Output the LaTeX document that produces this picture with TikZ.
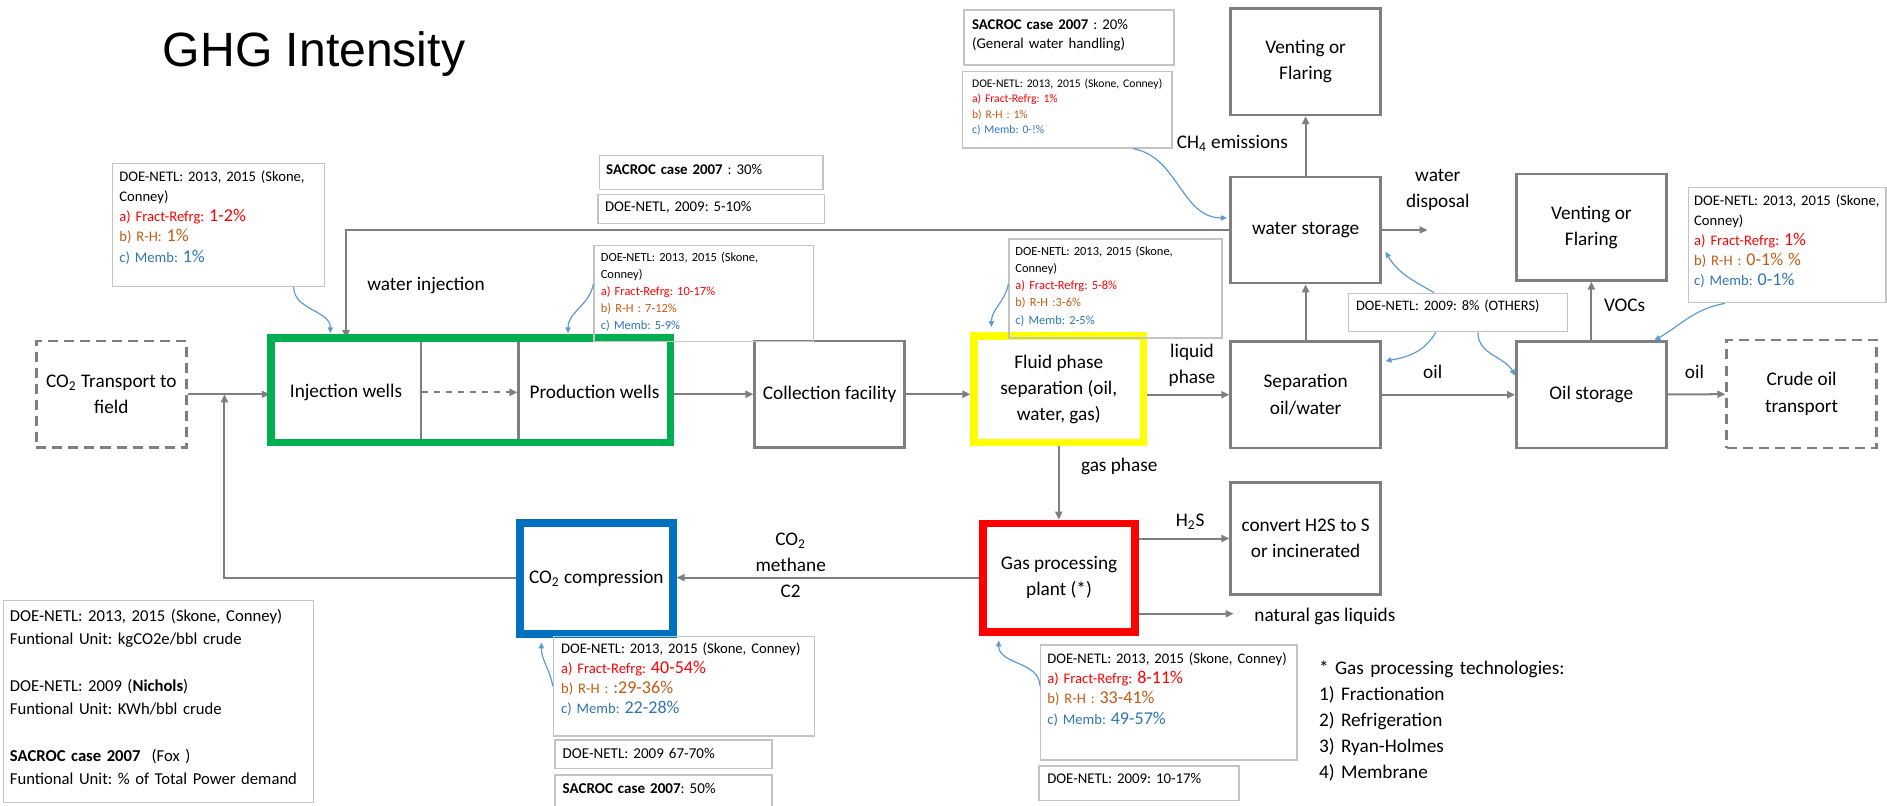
\documentclass[tikz,border=0pt]{standalone}
\usepackage{fontspec}
\setmainfont{Carlito}
\newfontfamily\titlefont{Liberation Sans}
\usetikzlibrary{positioning,calc,backgrounds}
\usetikzlibrary{arrows.meta}
\frenchspacing

\definecolor{linegray}{HTML}{7F7F7F}
\definecolor{notegray}{HTML}{C4C4C4}
\definecolor{okgreen}{HTML}{00B050}
\definecolor{okyellow}{HTML}{FFFF00}
\definecolor{okred}{HTML}{FF0000}
\definecolor{okblue}{HTML}{0070C0}
\definecolor{linkblue}{HTML}{5B9BD5}
\definecolor{txtred}{HTML}{FF0000}
\definecolor{txtorange}{HTML}{C55A11}
\definecolor{txtblue}{HTML}{2E75B6}

\newcommand{\nfont}[2]{\fontsize{#1}{#2}\selectfont}
\newcommand{\ra}[1]{\textcolor{txtred}{#1}}
\newcommand{\rb}[1]{\textcolor{txtorange}{#1}}
\newcommand{\rc}[1]{\textcolor{txtblue}{#1}}
\newcommand{\bignum}[1]{{\fontsize{9pt}{10pt}\selectfont #1}}

\tikzset{
  box/.style={draw=linegray, line width=1.2pt, align=center, font=\nfont{9.6pt}{13pt}, inner sep=2pt,
    minimum width=74.8pt, minimum height=53pt},
  ext/.style={box, dash pattern=on 5pt off 3pt},
  hilite/.style={draw=#1, line width=3.8pt, align=center, font=\nfont{9.6pt}{13pt}, inner sep=2pt},
  flow/.style={draw=linegray, line width=1pt, ->},
  link/.style={draw=linkblue, line width=0.6pt, -{Triangle[length=3pt,width=2.6pt]}},
  notebox/.style={draw=notegray, line width=0.7pt, inner sep=0pt},
  notetxt/.style={inner sep=0pt, anchor=base west, align=left, text width=160pt},
  lbl/.style={font=\nfont{9.6pt}{12.9pt}, align=center, inner sep=0pt},
  >={Triangle[length=4pt,width=3.5pt]}
}

\begin{document}
\begin{tikzpicture}[x=0.6pt,y=-0.6pt]
\useasboundingbox (0,0) rectangle (1568,669);

\node[anchor=base west, inner sep=0pt, font=\titlefont\fontsize{24pt}{28pt}\selectfont] (title) at (135,55.4) {GHG Intensity};

% process boxes
\node[ext] (trans) at (92.5,327.6) {CO\textsubscript{2} Transport to\\field};
\node[box, minimum height=52.8pt] (inj) at (287.5,326) {Injection wells};
\node[box, minimum width=75.6pt, minimum height=52.8pt] (prod) at (494,326) {Production wells};
\node[hilite=okgreen, minimum width=199.2pt, minimum height=51.9pt] (wells) at (391,324.3) {};
\node[box] (coll) at (689.4,327.6) {Collection facility};
\node[hilite=okyellow, minimum width=84.3pt, minimum height=53.1pt] (fluid) at (879.8,323.3) {Fluid phase\\separation (oil,\\water, gas)};
\node[box] (sep) at (1084.9,328) {Separation\\oil/water};
\node[box] (oilst) at (1322.3,328) {Oil storage};
\node[ext, minimum height=53.7pt] (crude) at (1497,327.3) {Crude oil\\transport};
\node[box] (wst) at (1084.9,191.1) {water storage};
\node[box] (vent1) at (1084.9,51.3) {Venting or\\Flaring};
\node[box] (vent2) at (1322.3,188.8) {Venting or\\Flaring};
\node[hilite=okred, minimum width=75.6pt, minimum height=54pt] (gasp) at (880,480) {Gas processing\\plant (*)};
\node[box, minimum height=55.8pt] (h2s) at (1084.9,447.5) {convert H2S to S\\or incinerated};
\node[hilite=okblue, minimum width=76.2pt, minimum height=55.2pt] (comp) at (495.5,480.6) {CO\textsubscript{2} compression};

\coordinate (merge) at (186.5,327.6);
\coordinate (disp) at ($(wst.east)+(38,0)$);
\coordinate (nglend) at (1025,510);

\begin{scope}[on background layer]
\draw[flow] (trans) -- (trans -| inj.west);
\draw[flow, dashed] (inj) -- (prod);
\draw[flow] (prod.east |- coll) -- (coll);
\draw[flow] (coll) -- (coll -| fluid.west);
\draw[flow] (fluid.east |- sep.west) -- (sep);
\draw[flow] (sep) -- (oilst);
\draw[flow] (oilst) -- (crude);
\draw[flow] (sep) -- (wst);
\draw[flow] (wst) -- (vent1);
\draw[flow] (wst) -- (disp);
\draw[flow] (oilst) -- (vent2);
\draw[flow] (fluid.south) -- (fluid.south |- gasp.north);
\draw[flow] (gasp.east |- h2s.west) -- (h2s.west);
\draw[flow] (gasp.east |- nglend) -- (nglend);
\draw[flow] (gasp.west) -- (gasp.west -| comp.east);
\draw[flow] (comp.west) -| (merge);
\draw[flow] (wst.west) -| (inj.north);
\end{scope}

% flow labels
\node[lbl] (lwinj) at (354,237.4) {water injection};
\node[lbl] (lliq) at (990.5,303.5) {liquid\\phase};
\node[lbl] (lgas) at (930,388) {gas phase};
\node[lbl] (lch4) at (1024,119) {CH\textsubscript{4} emissions};
\node[lbl] (ldisp) at (1194.7,157.6) {water\\disposal};
\node[lbl] (loil) at (1190.5,308.8) {oil};
\node[lbl] (loiltwo) at (1408,308.8) {oil};
\node[lbl] (lvoc) at (1350,253.5) {VOCs};
\node[lbl] (lhs) at (989,433.5) {H\textsubscript{2}S};
\node[lbl, anchor=west] (ngl) at (1042,512.5) {natural gas liquids};
\node[lbl] (lmix) at (657,469.5) {CO\textsubscript{2}\\methane\\C2};

% notes
\node[notebox, minimum width=105.6pt, minimum height=61.4pt] (a1) at (181.5,186.85) {};
\node[notetxt, font=\nfont{7.3pt}{10.1pt}] (a1t) at ($(a1.north west)+(5.9,15.35)$) {DOE-NETL: 2013, 2015 (Skone,\\Conney)\\\ra{a) Fract-Refrg: \bignum{1-2\%}}\\\rb{b) R-H: \bignum{1\%}}\\\rc{c) Memb: \bignum{1\%}}};

\node[notebox, minimum width=111.6pt, minimum height=16.7pt] (sacthirty) at (591,143.35) {};
\node[notetxt, font=\nfont{7.4pt}{9.8pt}] (sacthirtyt) at ($(sacthirty.north west)+(6,16.3)$) {\textbf{SACROC case 2007} : 30\%};
\node[notebox, minimum width=112.8pt, minimum height=14.5pt] (doefive) at (591,173.55) {};
\node[notetxt, font=\nfont{7.4pt}{9.8pt}] (doefivet) at ($(doefive.north west)+(6,15.2)$) {DOE-NETL, 2009: 5-10\%};

\node[notebox, minimum width=109.4pt, minimum height=48pt] (a2) at (584.8,243.95) {};
\node[notetxt, font=\nfont{6.2pt}{8.5pt}] (a2t) at ($(a2.north west)+(5.9,13.9)$) {DOE-NETL: 2013, 2015 (Skone,\\Conney)\\\ra{a) Fract-Refrg: 10-17\%}\\\rb{b) R-H : 7-12\%}\\\rc{c) Memb: 5-9\%}};

\node[notebox, minimum width=106.2pt, minimum height=49.4pt] (a3) at (927,239.8) {};
\node[notetxt, font=\nfont{6.2pt}{8.6pt}] (a3t) at ($(a3.north west)+(5.5,14)$) {DOE-NETL: 2013, 2015 (Skone,\\Conney)\\\ra{a) Fract-Refrg: 5-8\%}\\\rb{b) R-H :3-6\%}\\\rc{c) Memb: 2-5\%}};

\node[notebox, minimum width=104.8pt, minimum height=27.4pt] (a4) at (888.3,31.15) {};
\node[notetxt, font=\nfont{7.4pt}{9.8pt}] (a4t) at ($(a4.north west)+(7,16.4)$) {\textbf{SACROC case 2007} : 20\%\\(General water handling)};

\node[notebox, minimum width=104.4pt, minimum height=38pt] (a5) at (887,91.3) {};
\node[notetxt, font=\nfont{5.8pt}{7.8pt}] (a5t) at ($(a5.north west)+(8,13.3)$) {DOE-NETL: 2013, 2015 (Skone, Conney)\\\ra{a) Fract-Refrg: 1\%}\\\rb{b) R-H : 1\%}\\\rc{c) Memb: 0-!\%}};

\node[notebox, minimum width=109pt, minimum height=19.1pt] (doeeight) at (1211.55,259.65) {};
\node[notetxt, font=\nfont{7.2pt}{9.8pt}] (doeeightt) at ($(doeeight.north west)+(6.3,14.7)$) {DOE-NETL: 2009: 8\% (OTHERS)};

\node[notebox, minimum width=98.4pt, minimum height=57.3pt] (a6) at (1485,203.75) {};
\node[notetxt, font=\nfont{7.3pt}{10pt}] (a6t) at ($(a6.north west)+(5,15.3)$) {DOE-NETL: 2013, 2015 (Skone,\\Conney)\\\ra{a) Fract-Refrg: \bignum{1\%}}\\\rb{b) R-H : \bignum{0-1\% \%}}\\\rc{c) Memb: \bignum{0-1\%}}};

\node[notebox, minimum width=130pt, minimum height=49.6pt] (a7) at (568.3,570.3) {};
\node[notetxt, font=\nfont{7.3pt}{10pt}] (a7t) at ($(a7.north west)+(6.5,14.7)$) {DOE-NETL: 2013, 2015 (Skone, Conney)\\\ra{a) Fract-Refrg: \bignum{40-54\%}}\\\rb{b) R-H : \bignum{:29-36\%}}\\\rc{c) Memb: \bignum{22-28\%}}};

\node[notebox, minimum width=108.3pt, minimum height=14.2pt] (doesixty) at (551.25,626.85) {};
\node[notetxt, font=\nfont{7.5pt}{9.8pt}] (doesixtyt) at ($(doesixty.north west)+(6.8,16.1)$) {DOE-NETL: 2009 67-70\%};
\node[notebox, minimum width=108.3pt, minimum height=16.8pt] (sacfifty) at (551.25,658) {};
\node[notetxt, font=\nfont{7.5pt}{9.8pt}] (sacfiftyt) at ($(sacfifty.north west)+(6.8,16.2)$) {\textbf{SACROC case 2007}: 50\%};

\node[notebox, minimum width=154.6pt, minimum height=100.8pt] (units) at (131.85,583) {};
\node[notetxt, font=\nfont{8.3pt}{11.6pt}] (unitst) at ($(units.north west)+(5.5,18.2)$) {DOE-NETL: 2013, 2015 (Skone, Conney)\\Funtional Unit: kgCO2e/bbl crude\\[11.6pt]DOE-NETL: 2009 (\textbf{Nichols})\\Funtional Unit: KWh/bbl crude\\[11.6pt]\textbf{SACROC case 2007}\ \ (Fox )\\Funtional Unit: \% of Total Power demand};

\node[notebox, minimum width=127.9pt, minimum height=57.3pt] (a8) at (971.2,583.75) {};
\node[notetxt, font=\nfont{7.3pt}{10pt}] (a8t) at ($(a8.north west)+(5.9,16.2)$) {DOE-NETL: 2013, 2015 (Skone, Conney)\\\ra{a) Fract-Refrg: \bignum{8-11\%}}\\\rb{b) R-H : \bignum{33-41\%}}\\\rc{c) Memb: \bignum{49-57\%}}};

\node[notebox, minimum width=99.7pt, minimum height=17.1pt] (doeten) at (946.55,650.75) {};
\node[notetxt, font=\nfont{7.4pt}{9.8pt}] (doetent) at ($(doeten.north west)+(7,15.2)$) {DOE-NETL: 2009: 10-17\%};

\node[notetxt, font=\nfont{9.6pt}{12.9pt}] (techs) at (1095.7,560.8) {* Gas processing technologies:\\1) Fractionation\\2) Refrigeration\\3) Ryan-Holmes\\4) Membrane};

% note pointers
\draw[link] ($(a1.south east)+(-26,0)$) to[out=-90,in=90] ($(inj.north)+(-13,-4)$);
\draw[link] ($(a2.west)+(0,-8)$) to[out=-100,in=90] ($(prod.north)+(-22,-4)$);
\draw[link] ($(a3.west)+(0,-4)$) to[out=-100,in=90] ($(fluid.north)+(-56,-4)$);
\draw[link] ($(a5.south east)+(-33,0)$) to[out=-10,in=180] ($(wst.west)+(-2,-10)$);
\draw[link] ($(doeeight.north)+(-20,0)$) to[out=150,in=-60] ($(wst.east)+(3,18)$);
\draw[link] ($(doeeight.south)+(-18.5,0)$) to[out=-120,in=10] ($(sep.east)+(3,-28)$);
\draw[link] ($(doeeight.south)+(16.5,0)$) to[out=-90,in=120] ($(oilst.west)+(0,-16)$);
\draw[link] ($(a6.south west)+(31,0)$) to[out=190,in=30] ($(oilst.north east)+(-11,0)$);
\draw[link] (a7.west) to[out=100,in=-90] ($(comp.south west)+(21,4)$);
\draw[link] ($(a8.west)+(0,-14)$) to[out=90,in=-90] ($(gasp.south west)+(16,4)$);
\end{tikzpicture}
\end{document}
